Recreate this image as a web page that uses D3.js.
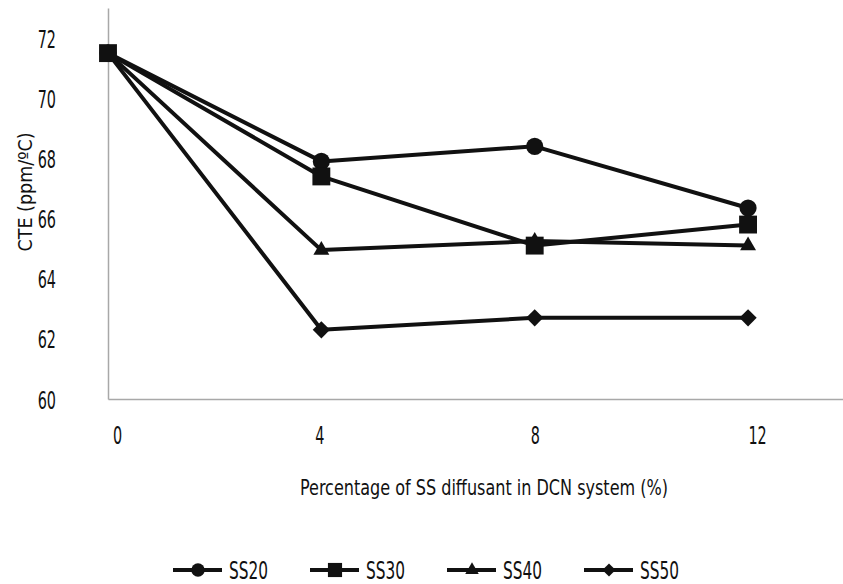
<!DOCTYPE html>
<html>
<head>
<meta charset="utf-8">
<script src="https://cdn.jsdelivr.net/npm/d3@7"></script>
<style>
  body { margin: 0; background: #fff; }
  text { font-family: "DejaVu Sans", sans-serif; font-stretch: condensed; fill: #111; }
</style>
</head>
<body>
<div id="chart"></div>
<script>
// data
const xValues = [0, 4, 8, 12]
const seriesNames = ["SS20", "SS30", "SS40", "SS50"]
const ss20 = [71.5, 67.9, 68.4, 66.35]
const ss30 = [71.5, 67.4, 65.1, 65.8]
const ss40 = [71.5, 64.95, 65.25, 65.1]
const ss50 = [71.5, 62.3, 62.7, 62.7]
const yTicks = [60, 62, 64, 66, 68, 70, 72]

const series = [
  { name: "SS20", values: ss20, symbol: d3.symbolCircle },
  { name: "SS30", values: ss30, symbol: d3.symbolSquare },
  { name: "SS40", values: ss40, symbol: d3.symbolTriangle },
  { name: "SS50", values: ss50, symbol: d3.symbolDiamond2 },
]

const dimensions = { width: 843, height: 584 }

const svg = d3.select("#chart").append("svg")
  .attr("width", dimensions.width)
  .attr("height", dimensions.height)

const x = d3.scaleLinear().domain([0, 13.78]).range([108, 843])
const y = d3.scaleLinear().domain([60, 73]).range([399, 8])

// squeeze text horizontally, the source font is a condensed one
const condense = (sel, k) => sel.each(function() {
  const w = this.getComputedTextLength()
  this.setAttribute("textLength", w * k)
  this.setAttribute("lengthAdjust", "spacingAndGlyphs")
})

// axes
const yAxis = svg.append("g")
  .attr("transform", `translate(${x(0)},0)`)
  .call(d3.axisLeft(y).tickValues(yTicks).tickSize(0).tickPadding(52))
yAxis.select(".domain").attr("stroke", "#a8a8a8").attr("stroke-width", 1.5)
yAxis.selectAll("text").attr("font-size", 25).attr("dy", "0.36em")
condense(yAxis.selectAll("text"), 0.64)

const xAxis = svg.append("g")
  .attr("transform", `translate(0,${y(60)})`)
  .call(d3.axisBottom(x).tickValues(xValues).tickSize(0).tickPadding(27))
xAxis.select(".domain").attr("stroke", "#a8a8a8").attr("stroke-width", 1.5)
xAxis.selectAll("text").attr("font-size", 25).attr("dx", (d, i) => [9, -2, 0, 9][i])
condense(xAxis.selectAll("text"), 0.64)

// axis titles
svg.append("text")
  .attr("x", 484)
  .attr("y", 495)
  .attr("text-anchor", "middle")
  .attr("font-size", 22)
  .attr("textLength", 368)
  .attr("lengthAdjust", "spacingAndGlyphs")
  .text("Percentage of SS diffusant in DCN system (%)")

svg.append("text")
  .attr("transform", "translate(32,192) rotate(-90)")
  .attr("text-anchor", "middle")
  .attr("font-size", 19)
  .attr("textLength", 119)
  .attr("lengthAdjust", "spacingAndGlyphs")
  .text("CTE (ppm/ºC)")

// lines
const line = d3.line()
  .x((d, i) => x(xValues[i]))
  .y(d => y(d))

const markerSize = { SS20: 230, SS30: 320, SS40: 110, SS50: 190 }
const drawOrder = ["SS20", "SS40", "SS50", "SS30"]

drawOrder.forEach(name => {
  const s = series.find(d => d.name == name)
  const g = svg.append("g")
  g.append("path")
    .attr("d", line(s.values))
    .attr("fill", "none")
    .attr("stroke", "#111")
    .attr("stroke-width", 4)
    .attr("stroke-linejoin", "round")
  g.selectAll("path.marker")
    .data(s.values)
    .join("path")
      .attr("class", "marker")
      .attr("d", d3.symbol().type(s.symbol).size(markerSize[name]))
      .attr("transform", (d, i) => `translate(${x(xValues[i])},${y(d)})`)
      .attr("fill", "#111")
})

// legend
const legendSize = { SS20: 140, SS30: 200, SS40: 80, SS50: 110 }
const legend = svg.append("g")
  .attr("transform", "translate(173,570)")

const entries = legend.selectAll("g")
  .data(series)
  .join("g")
    .attr("transform", (d, i) => `translate(${i * 137},0)`)

entries.append("line")
  .attr("x1", 0)
  .attr("x2", 49)
  .attr("stroke", "#111")
  .attr("stroke-width", 4)

entries.append("path")
  .attr("d", d => d3.symbol().type(d.symbol).size(legendSize[d.name])())
  .attr("transform", "translate(25,0)")
  .attr("fill", "#111")

entries.append("text")
  .attr("x", 56)
  .attr("dy", "0.36em")
  .attr("font-size", 24)
  .attr("textLength", 39)
  .attr("lengthAdjust", "spacingAndGlyphs")
  .text(d => d.name)
</script>
</body>
</html>
